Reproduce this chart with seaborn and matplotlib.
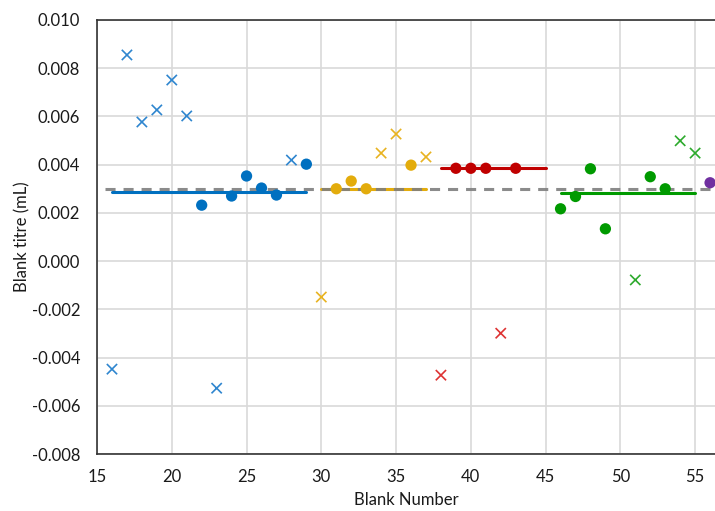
import pandas as pd
import seaborn as sns
import matplotlib.pyplot as plt

# accepted blanks (dots)
dot_blank = [22, 24, 25, 26, 27, 29, 31, 32, 33, 36, 39, 40, 41, 43, 46, 47, 48, 49, 52, 53, 56]
dot_titre = [0.00232, 0.0027, 0.00353, 0.00303, 0.00274, 0.00402,
             0.0030, 0.00332, 0.0030, 0.00398,
             0.00385, 0.00385, 0.00385, 0.00385,
             0.00217, 0.00268, 0.00383, 0.00134, 0.0035, 0.0030,
             0.00325]
dot_group = ["A"] * 6 + ["B"] * 4 + ["C"] * 4 + ["D"] * 6 + ["E"]

# rejected blanks (crosses)
cross_blank = [16, 17, 18, 19, 20, 21, 23, 28, 30, 34, 35, 37, 38, 42, 51, 54, 55]
cross_titre = [-0.00448, 0.00855, 0.00577, 0.00627, 0.00751, 0.00602, -0.00527, 0.00419,
               -0.00149, 0.00448, 0.00527, 0.00432,
               -0.00473, -0.00299,
               -0.00078, 0.00499, 0.00448]
cross_group = ["A"] * 8 + ["B"] * 4 + ["C"] * 2 + ["D"] * 3

# group mean lines
mean_group = ["A", "B", "C", "D"]
mean_start = [16, 30, 38, 46]
mean_end = [29, 37, 45, 55]
mean_value = [0.00288, 0.0030, 0.00385, 0.00283]

overall_mean = 0.0030

dot_colors = {"A": "#0070C0", "B": "#E3AC0C", "C": "#C00000", "D": "#009A00", "E": "#7030A0"}
cross_colors = {"A": "#2F86CF", "B": "#E8B321", "C": "#DE3333", "D": "#2DAA2D"}

dots = pd.DataFrame({"blank": dot_blank, "titre": dot_titre, "group": dot_group})
crosses = pd.DataFrame({"blank": cross_blank, "titre": cross_titre, "group": cross_group})
means = pd.DataFrame({"group": mean_group, "start": mean_start, "end": mean_end, "value": mean_value})

sns.set_theme(style="whitegrid")
plt.rcParams["font.family"] = ["Lato", "DejaVu Sans"]

fig = plt.figure(figsize=(7.15, 5.11), dpi=100)
ax = fig.add_axes([0.1357, 0.1115, 0.8643, 0.8494])

for _, row in means.iterrows():
    ax.plot([row["start"], row["end"]], [row["value"], row["value"]],
            color=dot_colors[row["group"]], lw=2.2, zorder=2)

ax.plot([15.5, 57], [overall_mean, overall_mean], color="#7F7F7F", lw=2.2,
        ls=(0, (3.3, 2.6)), alpha=0.9, zorder=3)

sns.scatterplot(data=crosses, x="blank", y="titre", hue="group", palette=cross_colors,
                marker="x", s=55, linewidth=1.2, legend=False, ax=ax, zorder=4)
sns.scatterplot(data=dots, x="blank", y="titre", hue="group", palette=dot_colors,
                marker="o", s=66, edgecolor="none", legend=False, ax=ax, zorder=5)

ax.set_xlim(15, 56.33)
ax.set_ylim(-0.008, 0.010)
ax.set_xticks(range(15, 56, 5))
ax.set_yticks([i / 1000 for i in range(-8, 11, 2)])
ax.yaxis.set_major_formatter(plt.FuncFormatter(lambda v, p: f"{v:.3f}"))

ax.grid(True, color="#D9D9D9", lw=1.2)
ax.set_facecolor("white")
for side in ["left", "bottom", "top"]:
    ax.spines[side].set_color("#333333")
    ax.spines[side].set_linewidth(1.2)
ax.spines["right"].set_visible(False)

ax.tick_params(axis="both", labelsize=12, colors="#1A1A1A", length=0)
ax.tick_params(axis="y", pad=12)
ax.tick_params(axis="x", pad=11)
ax.set_xlabel("Blank Number", fontsize=12, color="#1A1A1A", labelpad=5)
ax.set_ylabel("Blank titre (mL)", fontsize=12, color="#1A1A1A", labelpad=1)

fig.savefig("out.png", dpi=100)
